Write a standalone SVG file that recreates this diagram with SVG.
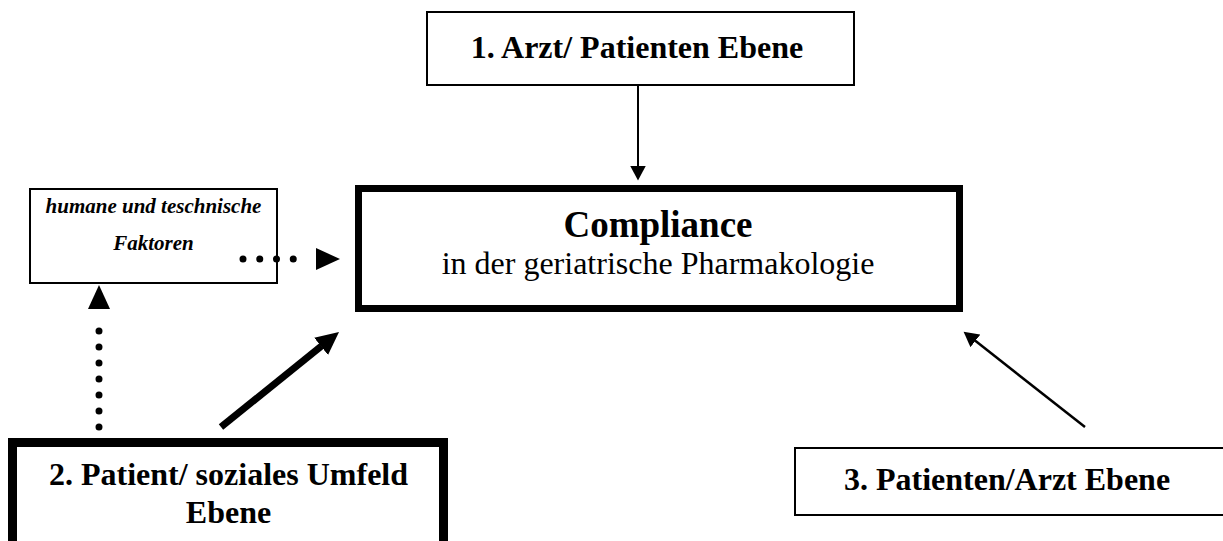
<svg xmlns="http://www.w3.org/2000/svg" width="1223" height="541" viewBox="0 0 1223 541">
<style>
.bg{fill:#fff}
.box{fill:#fff;stroke:#000}
.lbl{font-family:"Liberation Serif","Times New Roman",serif;font-weight:bold;font-size:32px;fill:#000;text-anchor:middle}
.sub{font-family:"Liberation Serif","Times New Roman",serif;font-size:32px;fill:#000;text-anchor:middle}
.it{font-family:"Liberation Serif","Times New Roman",serif;font-weight:bold;font-style:italic;font-size:21px;fill:#000;text-anchor:middle}
.solid{stroke:#000;fill:none}
.dot{stroke:#000;fill:none;stroke-width:7;stroke-linecap:round}
</style>
<defs>
<marker id="headS" markerUnits="userSpaceOnUse" markerWidth="16" markerHeight="16" refX="0.5" refY="8" orient="auto" viewBox="0 0 16 16"><path d="M0,0 L15,8 L0,16 z" fill="#000"/></marker>
<marker id="headT" markerUnits="userSpaceOnUse" markerWidth="24" markerHeight="24" refX="0.5" refY="11" orient="auto" viewBox="0 0 24 24"><path d="M0,0 L23,11 L0,22 z" fill="#000"/></marker>
<marker id="headD" markerUnits="userSpaceOnUse" markerWidth="26" markerHeight="24" refX="-6" refY="11" orient="auto" viewBox="0 0 26 24"><path d="M0,0 L24,11 L0,22 z" fill="#000"/></marker>
</defs>
<rect class="bg" x="0" y="0" width="1223" height="541"/>
<g id="node-arzt">
<rect class="box" x="427" y="12" width="427" height="73" stroke-width="2"/>
<text class="lbl" x="637" y="58">1. Arzt/ Patienten Ebene</text>
</g>
<g id="node-compliance">
<rect class="box" x="358.5" y="188.5" width="601" height="120" stroke-width="7"/>
<text class="lbl" x="658" y="237" style="font-size:37px">Compliance</text>
<text class="sub" x="658" y="274">in der geriatrische Pharmakologie</text>
</g>
<g id="node-faktoren">
<rect class="box" x="30" y="189" width="247" height="94" stroke-width="2"/>
<text class="it" x="153.5" y="213">humane und teschnische</text>
<text class="it" x="153.5" y="250">Faktoren</text>
</g>
<g id="node-umfeld">
<rect class="box" x="12.5" y="442.5" width="431" height="130" stroke-width="9"/>
<text class="lbl" x="228.5" y="485">2. Patient/ soziales Umfeld</text>
<text class="lbl" x="228.5" y="523">Ebene</text>
</g>
<g id="node-patienten">
<rect class="box" x="795" y="448" width="440" height="67" stroke-width="2"/>
<text class="lbl" x="1007" y="490">3. Patienten/Arzt Ebene</text>
</g>
<g id="connectors">
<line class="solid" x1="638" y1="86" x2="638" y2="166" stroke-width="2" marker-end="url(#headS)"/>
<line class="solid" x1="1085" y1="427" x2="975" y2="340.6" stroke-width="2.5" marker-end="url(#headS)"/>
<line class="solid" x1="221" y1="427" x2="321.5" y2="346" stroke-width="7" marker-end="url(#headT)"/>
<line class="dot" x1="243" y1="259" x2="310" y2="259" stroke-dasharray="0 16.75" marker-end="url(#headD)"/>
<line class="dot" x1="99" y1="427" x2="99" y2="315" stroke-dasharray="0 16" marker-end="url(#headD)"/>
</g>
</svg>
